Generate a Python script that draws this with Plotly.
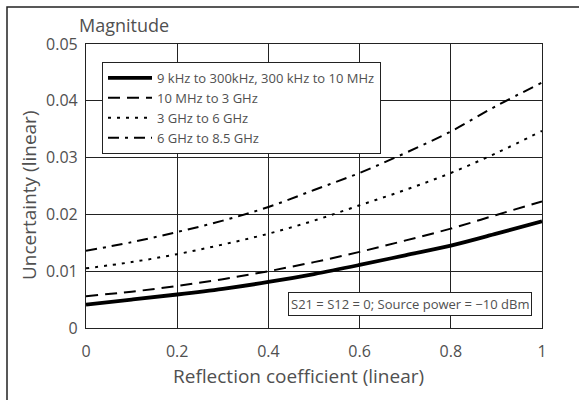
import plotly.graph_objects as go

x_vals = [0.0, 0.1, 0.2, 0.3, 0.4, 0.5, 0.6, 0.7, 0.8, 0.9, 1.0]
series_names = [
    "9 kHz to 300kHz, 300 kHz to 10 MHz",
    "10 MHz to 3 GHz",
    "3 GHz to 6 GHz",
    "6 GHz to 8.5 GHz",
]
band1 = [0.0041, 0.0050, 0.0059, 0.0069, 0.0081, 0.0095, 0.0111, 0.0128, 0.0145, 0.0166, 0.0188]
band2 = [0.0056, 0.0064, 0.0074, 0.0086, 0.0100, 0.0116, 0.0134, 0.0154, 0.0175, 0.0199, 0.0223]
band3 = [0.0105, 0.0116, 0.0130, 0.0147, 0.0166, 0.0189, 0.0216, 0.0243, 0.0273, 0.0308, 0.0347]
band4 = [0.0136, 0.0151, 0.0169, 0.0189, 0.0213, 0.0243, 0.0273, 0.0308, 0.0346, 0.0391, 0.0432]
x_ticks = [0, 0.2, 0.4, 0.6, 0.8, 1]
x_ticklabels = ["0", "0.2", "0.4", "0.6", "0.8", "1"]
y_ticks = [0, 0.01, 0.02, 0.03, 0.04, 0.05]
y_ticklabels = ["0", "0.01", "0.02", "0.03", "0.04", "0.05"]

FONT = "Open Sans"
TXT = "#505050"

styles = [
    dict(width=3.8, dash="solid"),
    dict(width=2, dash="12px,7px"),
    dict(width=2, dash="3px,6px"),
    dict(width=2, dash="11px,6px,3px,6px"),
]

fig = go.Figure()
for name, ys, st in zip(series_names, [band1, band2, band3, band4], styles):
    fig.add_trace(go.Scatter(x=x_vals, y=ys, mode="lines", name=name,
                             line=dict(color="black", width=st["width"], dash=st["dash"], shape="spline")))

W, H = 579, 400
L, R, T, B = 86, 37, 44, 72
pw, ph = W - L - R, H - T - B

def px_x(p):
    return (p - L) / pw

def px_y(p):
    return (H - B - p) / ph

axis_common = dict(showgrid=True, gridcolor="#222222", gridwidth=1, showline=True, linecolor="#222222",
                   linewidth=1.2, mirror=True, ticks="", zeroline=False,
                   tickfont=dict(family=FONT, size=16, color=TXT))

fig.update_layout(
    width=W, height=H,
    margin=dict(l=L, r=R, t=T, b=B),
    paper_bgcolor="white", plot_bgcolor="white",
    font=dict(family=FONT, color=TXT),
    xaxis=dict(range=[0, 1], tickvals=x_ticks, ticktext=x_ticklabels, ticklabelstandoff=9, **axis_common),
    yaxis=dict(range=[0, 0.05], tickvals=y_ticks, ticktext=y_ticklabels, ticklabelstandoff=4, **axis_common),
    legend=dict(x=px_x(102), y=px_y(62), xanchor="left", yanchor="top",
                bordercolor="#222222", borderwidth=1, bgcolor="white",
                font=dict(family=FONT, size=13, color=TXT), itemwidth=44,
                tracegroupgap=0),
    showlegend=True,
)

fig.add_annotation(text="Magnitude", xref="paper", yref="paper", x=px_x(77), y=px_y(25),
                   xanchor="left", yanchor="middle", showarrow=False,
                   font=dict(family=FONT, size=18, color=TXT))
fig.add_annotation(text="Uncertainty (linear)", xref="paper", yref="paper", x=px_x(29), y=px_y(195),
                   xanchor="center", yanchor="middle", textangle=-90, showarrow=False,
                   font=dict(family=FONT, size=19, color=TXT))
fig.add_annotation(text="Reflection coefficient (linear)", xref="paper", yref="paper", x=px_x(298), y=px_y(376),
                   xanchor="center", yanchor="middle", showarrow=False,
                   font=dict(family=FONT, size=19, color=TXT))
fig.add_annotation(text="S21 = S12 = 0; Source power = \u221210 dBm", xref="paper", yref="paper",
                   x=px_x(532), y=px_y(304), xanchor="right", yanchor="middle", showarrow=False,
                   bordercolor="#222222", borderwidth=1, borderpad=2, bgcolor="white",
                   font=dict(family=FONT, size=13, color=TXT))

fig.add_shape(type="rect", xref="paper", yref="paper", x0=px_x(7), y0=px_y(420), x1=px_x(600), y1=px_y(7),
              line=dict(color="#222222", width=1.5), layer="above")

fig.write_html("out.html", config={"displayModeBar": False},
               post_script="document.body.style.margin='0';document.body.style.overflow='hidden';")
